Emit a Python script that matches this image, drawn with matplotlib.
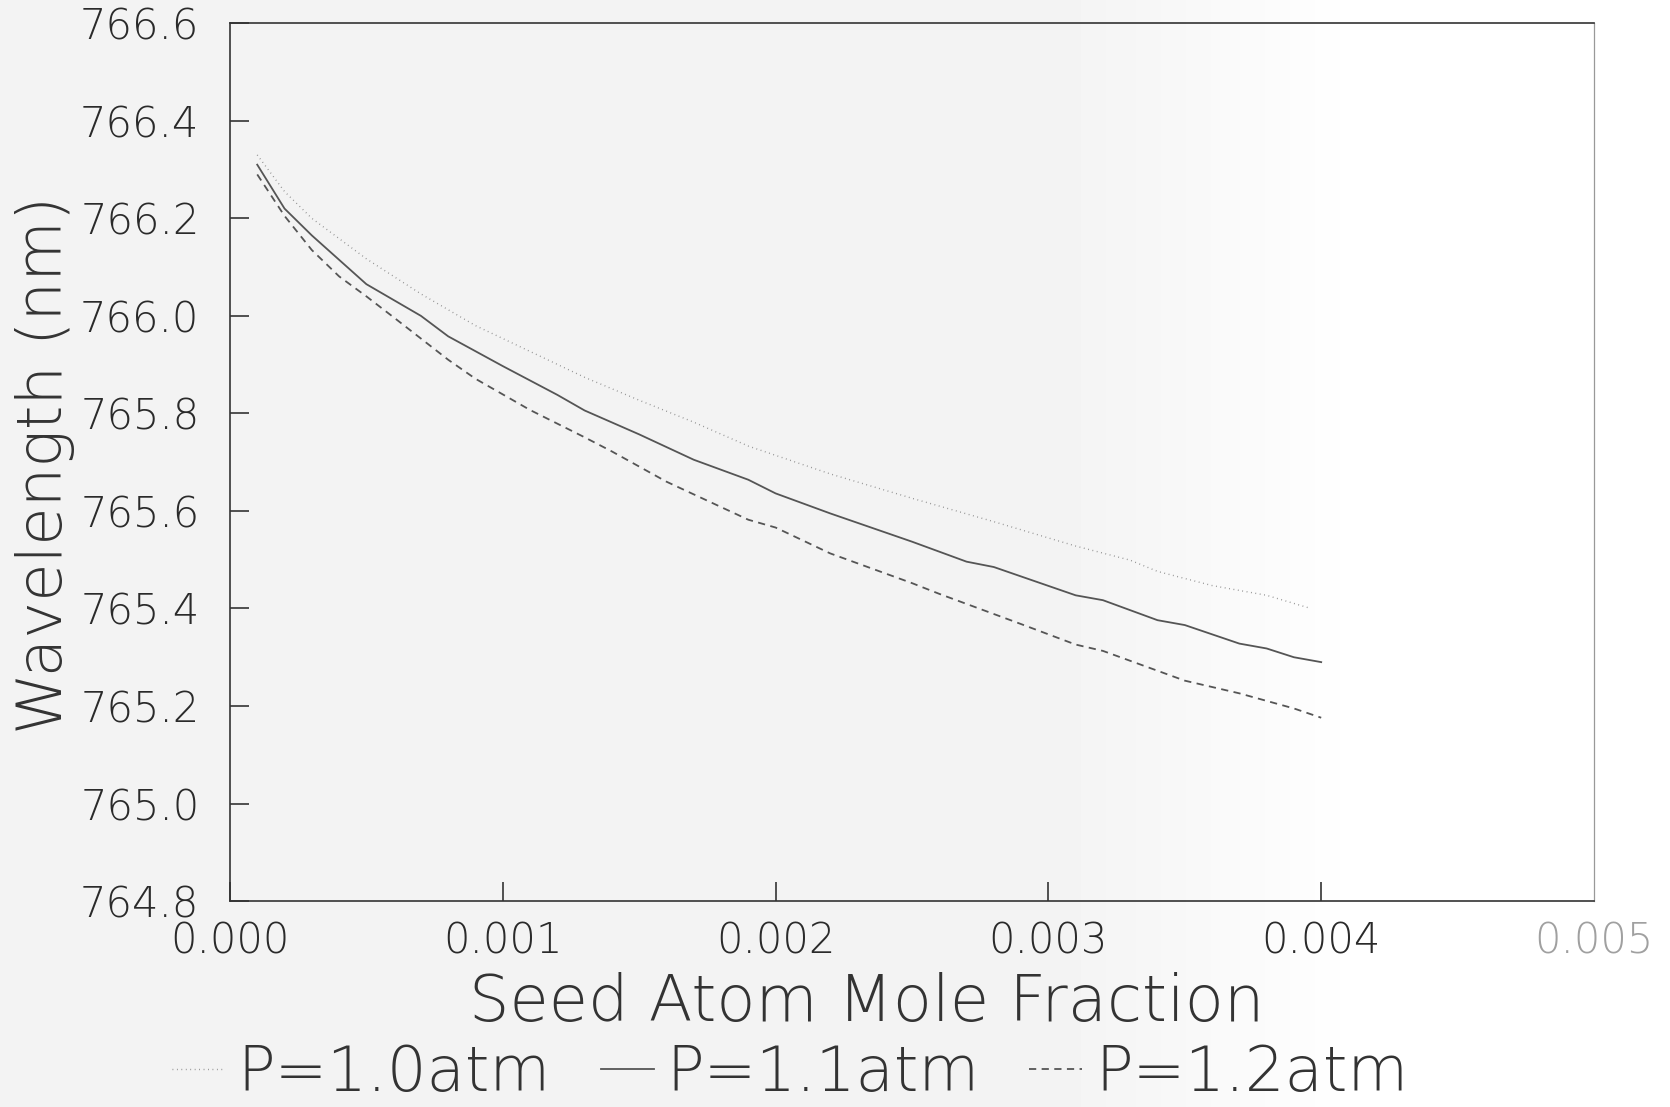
import numpy as np
import matplotlib
matplotlib.use('Agg')
import matplotlib.pyplot as plt

# values
x_p10 = [0.0001, 0.0002, 0.0003, 0.0005, 0.0007, 0.0009, 0.0011, 0.0013, 0.0015,
         0.0017, 0.0019, 0.0022, 0.0025, 0.0028, 0.0031, 0.0033, 0.0034, 0.0036,
         0.0038, 0.00395]
y_p10 = [766.33, 766.255, 766.20, 766.117, 766.045, 765.98, 765.927, 765.874, 765.827,
         765.782, 765.733, 765.676, 765.626, 765.578, 765.528, 765.499, 765.476, 765.447,
         765.427, 765.402]

x_p11 = [0.0001, 0.0002, 0.0003, 0.0005, 0.0007, 0.0008, 0.0010, 0.0012, 0.0013,
         0.0015, 0.0017, 0.0019, 0.0020, 0.0022, 0.0025, 0.0027, 0.0028, 0.0031,
         0.0032, 0.0034, 0.0035, 0.0037, 0.0038, 0.0039, 0.0040]
y_p11 = [766.31, 766.22, 766.165, 766.065, 766.0, 765.958, 765.897, 765.838, 765.806,
         765.757, 765.705, 765.664, 765.636, 765.595, 765.537, 765.496, 765.485, 765.427,
         765.417, 765.376, 765.366, 765.328, 765.318, 765.300, 765.290]

x_p12 = [0.0001, 0.0002, 0.0003, 0.0004, 0.0005, 0.0006, 0.0008, 0.0009, 0.0011,
         0.0013, 0.0014, 0.0016, 0.0019, 0.0020, 0.0022, 0.0025, 0.0026, 0.0029,
         0.0031, 0.0032, 0.0035, 0.0037, 0.0039, 0.0040]
y_p12 = [766.29, 766.205, 766.135, 766.081, 766.04, 765.997, 765.91, 765.871, 765.807,
         765.751, 765.722, 765.66, 765.582, 765.566, 765.513, 765.452, 765.43, 765.368,
         765.326, 765.313, 765.252, 765.226, 765.195, 765.176]

labels = ['P=1.0atm', 'P=1.1atm', 'P=1.2atm']
xticks = [0.000, 0.001, 0.002, 0.003, 0.004, 0.005]
yticks = [764.8, 765.0, 765.2, 765.4, 765.6, 765.8, 766.0, 766.2, 766.4, 766.6]

plt.rcParams['font.family'] = ['DejaVu Sans']
plt.rcParams['font.weight'] = 200
plt.rcParams['axes.labelweight'] = 200

fig = plt.figure(figsize=(16.7, 11.07), dpi=100, facecolor='#f4f4f4')

# scanned paper look: light grey on the left, white towards the right
bg = fig.add_axes([0, 0, 1, 1], zorder=-1)
shade = np.clip((np.linspace(0, 1, 400) - 0.62) / 0.2, 0, 1) * 0.05 + 0.95
bg.imshow(shade[np.newaxis, :], cmap='gray', vmin=0, vmax=1, aspect='auto',
          extent=[0, 1, 0, 1])
bg.axis('off')

ax = fig.add_axes([0.1377, 0.186, 0.8168, 0.793])
ax.set_facecolor('none')

l1, = ax.plot(x_p10, y_p10, color='#8a8a8a', lw=1.0, linestyle=(0, (0.6, 2.6)))
l2, = ax.plot(x_p11, y_p11, color='#555555', lw=1.3, linestyle='-')
l3, = ax.plot(x_p12, y_p12, color='#555555', lw=1.3, linestyle=(0, (4, 3)))

ax.set_xlim(0, 0.005)
ax.set_ylim(764.8, 766.6)
ax.set_xticks(xticks)
ax.set_xticklabels(['%.3f' % t for t in xticks])
ax.set_yticks(yticks)
ax.set_yticklabels(['%.1f' % t for t in yticks])
ax.tick_params(axis='both', direction='in', length=14, width=1.2, colors='#333333',
               labelsize=30, labelcolor='#2a2a2a')
ax.tick_params(axis='x', pad=14)
ax.tick_params(axis='y', pad=22)
ax.get_xticklabels()[-1].set_color('#a0a0a0')
ax.xaxis.get_major_ticks()[-1].tick1line.set_visible(False)

for s in ['left', 'top', 'bottom']:
    ax.spines[s].set_color('#333333')
    ax.spines[s].set_linewidth(1.2)
ax.spines['right'].set_color('#999999')
ax.spines['right'].set_linewidth(0.9)

ax.set_xlabel('Seed Atom Mole Fraction', fontsize=46, color='#333333')
ax.xaxis.set_label_coords(0.467, -0.116)
ax.xaxis.label.set_va('center')
ax.set_ylabel('Wavelength (nm)', fontsize=45, color='#333333')
ax.yaxis.set_label_coords(-0.1356, 0.497)
ax.yaxis.label.set_va('center')

fig.legend([l1, l2, l3], labels, loc='lower center', bbox_to_anchor=(0.473, 0.0), ncol=3,
           frameon=False, fontsize=45, handlelength=0.85, handletextpad=0.2,
           columnspacing=0.8, borderpad=0.05, borderaxespad=0.0, labelcolor='#333333')

fig.savefig('out.png', dpi=100, facecolor=fig.get_facecolor())
